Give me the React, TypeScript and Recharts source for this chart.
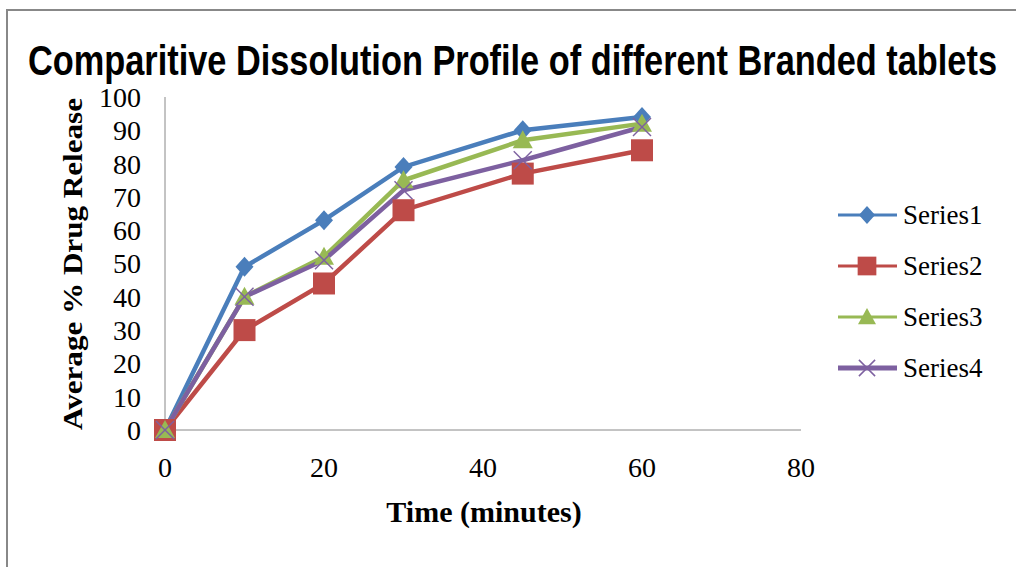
import { LineChart, Line, XAxis, YAxis } from "recharts";

const times = [0, 10, 20, 30, 45, 60];
const series1 = [0, 49, 63, 79, 90, 94];
const series2 = [0, 30, 44, 66, 77, 84];
const series3 = [0, 40, 52, 75, 87, 92];
const series4 = [0, 40, 51, 72, 81, 91];
const xTicks = [0, 20, 40, 60, 80];
const yTicks = [0, 10, 20, 30, 40, 50, 60, 70, 80, 90, 100];
const names = ["Series1", "Series2", "Series3", "Series4"];

const data = times.map((t, i) => ({
  t,
  s1: series1[i],
  s2: series2[i],
  s3: series3[i],
  s4: series4[i],
}));

const colors = ["#4A7EBB", "#BE4B48", "#98B954", "#7D60A0"];
const serif = "'Liberation Serif', 'Times New Roman', serif";

function Marker({ kind, cx, cy, color, scale = 1 }: any) {
  if (kind === 0) {
    const w = 9 * scale;
    const h = 10 * scale;
    return (
      <polygon
        points={`${cx},${cy - h} ${cx + w},${cy} ${cx},${cy + h} ${cx - w},${cy}`}
        fill={color}
      />
    );
  }
  if (kind === 1) {
    const s = 11 * scale;
    return <rect x={cx - s} y={cy - s} width={s * 2} height={s * 2} fill={color} />;
  }
  if (kind === 2) {
    const s = 10 * scale;
    return (
      <polygon
        points={`${cx},${cy - s} ${cx + s},${cy + s * 0.8} ${cx - s},${cy + s * 0.8}`}
        fill={color}
      />
    );
  }
  const s = 9 * scale;
  return (
    <g stroke={color} strokeWidth={1.5}>
      <line x1={cx - s} y1={cy - s} x2={cx + s} y2={cy + s} />
      <line x1={cx - s} y1={cy + s} x2={cx + s} y2={cy - s} />
    </g>
  );
}

const makeDot = (kind: number) => (props: any) => (
  <Marker key={`d${kind}-${props.index}`} kind={kind} cx={props.cx} cy={props.cy} color={colors[kind]} />
);

function LegendBox() {
  return (
    <svg width={180} height={210}>
      {names.map((n, i) => {
        const y = 25 + i * 51;
        return (
          <g key={n}>
            <line x1={0} y1={y} x2={59} y2={y} stroke={colors[i]} strokeWidth={i === 3 ? 5 : 3} />
            <Marker kind={i} cx={29} cy={y} color={colors[i]} scale={i === 1 ? 0.85 : 0.9} />
            <text x={65} y={y + 9} fontFamily={serif} fontSize={27} fill="#000">
              {n}
            </text>
          </g>
        );
      })}
    </svg>
  );
}

export default function App() {
  return (
    <div style={{ position: "absolute", left: 0, top: 0, width: 1016, height: 567, background: "#fff" }}>
      <LineChart
        width={1016}
        height={567}
        data={data}
        margin={{ top: 97, right: 215, bottom: 77, left: 105 }}
      >
        <XAxis
          dataKey="t"
          type="number"
          domain={[0, 80]}
          ticks={xTicks}
          tickLine={false}
          tickSize={0}
          tickMargin={27}
          stroke="#888"
          tick={{ fill: "#000", fontSize: 28, fontFamily: serif }}
          height={60}
        />
        <YAxis
          domain={[0, 100]}
          ticks={yTicks}
          tickLine={false}
          tickSize={0}
          tickMargin={24}
          stroke="#888"
          width={60}
          interval={0}
          tick={{ fill: "#000", fontSize: 28, fontFamily: serif }}
        />
        <Line dataKey="s1" name={names[0]} type="linear" stroke={colors[0]} strokeWidth={4.5} dot={makeDot(0)} isAnimationActive={false} />
        <Line dataKey="s2" name={names[1]} type="linear" stroke={colors[1]} strokeWidth={4.5} dot={makeDot(1)} isAnimationActive={false} />
        <Line dataKey="s3" name={names[2]} type="linear" stroke={colors[2]} strokeWidth={4.5} dot={makeDot(2)} isAnimationActive={false} />
        <Line dataKey="s4" name={names[3]} type="linear" stroke={colors[3]} strokeWidth={4.5} dot={makeDot(3)} isAnimationActive={false} />
      </LineChart>
      <div style={{ position: "absolute", left: 838, top: 190 }}>
        <LegendBox />
      </div>
      <svg
        width={1016}
        height={567}
        style={{ position: "absolute", left: 0, top: 0, pointerEvents: "none" }}
      >
        <path d="M7 567 V10 H1016" fill="none" stroke="#888" strokeWidth={2} />
        <text
          x={28}
          y={75}
          textLength={969}
          lengthAdjust="spacingAndGlyphs"
          fontFamily="'Liberation Sans', Arial, sans-serif"
          fontWeight="bold"
          fontSize={42}
          fill="#000"
        >
          Comparitive Dissolution Profile of different Branded tablets
        </text>
        <text
          transform="translate(82 430) rotate(-90)"
          x={0}
          y={0}
          textLength={332}
          lengthAdjust="spacingAndGlyphs"
          fontFamily={serif}
          fontWeight="bold"
          fontSize={28}
          fill="#000"
        >
          Average % Drug Release
        </text>
        <text
          x={484}
          y={522}
          textAnchor="middle"
          fontFamily={serif}
          fontWeight="bold"
          fontSize={30}
          fill="#000"
        >
          Time (minutes)
        </text>
      </svg>
    </div>
  );
}
